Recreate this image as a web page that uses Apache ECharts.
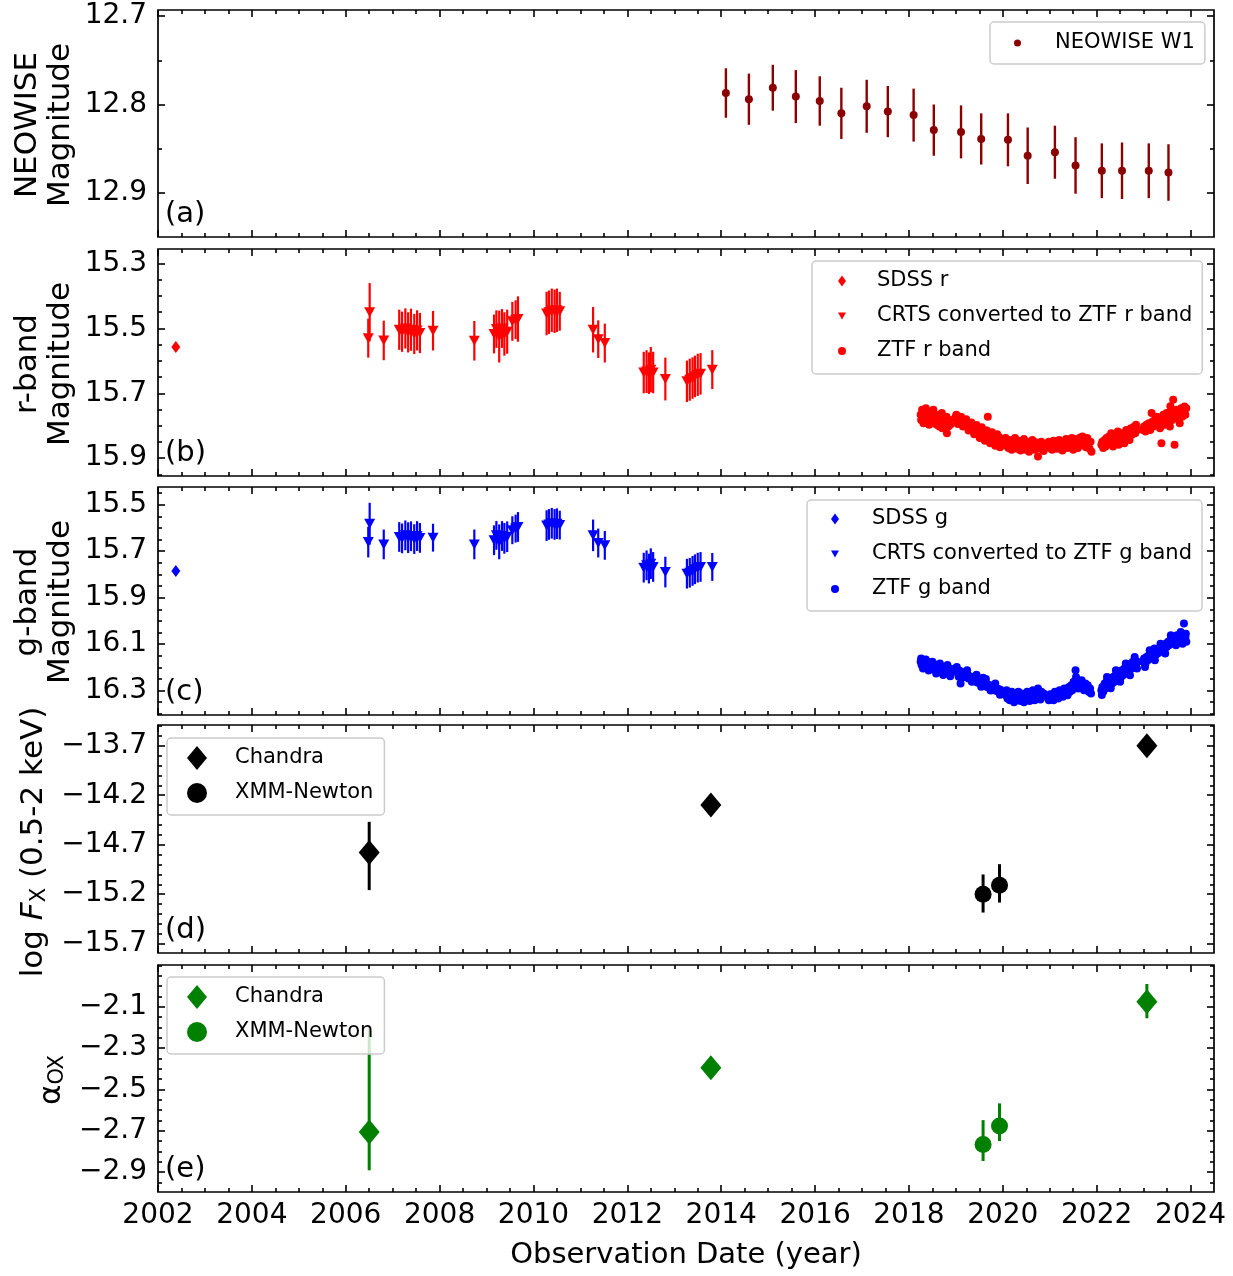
<!DOCTYPE html>
<html><head><meta charset="utf-8">
<script src="https://cdn.jsdelivr.net/npm/echarts@6/dist/echarts.min.js"></script>
<style>html,body{margin:0;padding:0;background:#fff}#c{width:1233px;height:1276px}</style>
</head><body><div id="c"></div>
<script>
const FONT = '"DejaVu Sans", sans-serif';

// ---------- DATA ----------
const neowiseYear = [2014.10,2014.59,2015.10,2015.59,2016.10,2016.56,2017.10,2017.55,2018.10,2018.53,2019.11,2019.54,2020.11,2020.53,2021.11,2021.55,2022.11,2022.54,2023.11,2023.53];
const neowiseMag  = [12.787,12.794,12.781,12.791,12.796,12.810,12.802,12.808,12.812,12.829,12.831,12.839,12.840,12.858,12.854,12.869,12.875,12.875,12.875,12.877];
const neowiseErr  = [0.028,0.029,0.026,0.030,0.028,0.029,0.030,0.029,0.030,0.029,0.030,0.029,0.030,0.032,0.030,0.032,0.031,0.032,0.031,0.032];

const sdssYear = [2002.38];
const sdssR = [15.557];
const sdssG = [15.785];

const crtsYear = [2006.48,2006.51,2006.81,2007.14,2007.20,2007.27,2007.33,2007.39,2007.46,2007.52,2007.58,2007.86,2008.74,2009.16,2009.21,2009.27,2009.33,2009.38,2009.44,2009.55,2009.62,2009.67,2010.28,2010.33,2010.39,2010.45,2010.50,2010.56,2011.27,2011.38,2011.52,2012.35,2012.41,2012.46,2012.50,2012.55,2012.81,2013.27,2013.33,2013.39,2013.44,2013.50,2013.56,2013.81];
const crtsR = [15.530,15.450,15.537,15.504,15.510,15.500,15.512,15.504,15.517,15.506,15.514,15.507,15.538,15.517,15.502,15.525,15.500,15.517,15.510,15.478,15.473,15.471,15.454,15.450,15.444,15.447,15.444,15.447,15.504,15.533,15.545,15.636,15.633,15.638,15.627,15.636,15.656,15.663,15.658,15.653,15.648,15.643,15.640,15.627];
const crtsRErr = [0.060,0.090,0.061,0.062,0.062,0.062,0.062,0.065,0.062,0.062,0.062,0.061,0.061,0.060,0.058,0.080,0.060,0.067,0.068,0.060,0.060,0.070,0.067,0.067,0.067,0.067,0.067,0.060,0.070,0.058,0.060,0.064,0.066,0.064,0.070,0.064,0.066,0.064,0.065,0.064,0.064,0.065,0.064,0.060];
const crtsG = [15.661,15.582,15.671,15.639,15.645,15.632,15.642,15.636,15.648,15.635,15.643,15.642,15.671,15.653,15.632,15.660,15.635,15.645,15.638,15.610,15.603,15.596,15.590,15.585,15.580,15.585,15.582,15.588,15.632,15.665,15.675,15.771,15.761,15.775,15.754,15.768,15.790,15.797,15.793,15.785,15.778,15.771,15.768,15.768];
const crtsGErr = [0.066,0.090,0.064,0.064,0.064,0.064,0.066,0.064,0.064,0.064,0.064,0.060,0.064,0.064,0.062,0.075,0.064,0.066,0.066,0.060,0.060,0.064,0.066,0.066,0.066,0.066,0.066,0.062,0.068,0.062,0.062,0.064,0.064,0.064,0.066,0.064,0.066,0.064,0.064,0.064,0.064,0.064,0.064,0.060];

const ztfR = [
[2018.25,15.766],[2018.26,15.782],[2018.28,15.751],[2018.30,15.772],[2018.31,15.792],[2018.33,15.761],[2018.34,15.777],[2018.36,15.746],[2018.37,15.787],[2018.39,15.766],[2018.40,15.756],[2018.42,15.782],[2018.43,15.797],[2018.45,15.772],[2018.46,15.761],[2018.48,15.787],[2018.50,15.777],[2018.52,15.751],[2018.54,15.766],[2018.55,15.792],[2018.57,15.782],[2018.58,15.766],[2018.59,15.797],[2018.61,15.772],[2018.63,15.787],[2018.65,15.802],[2018.67,15.777],[2018.69,15.792],[2018.70,15.761],[2018.71,15.808],[2018.72,15.782],[2018.74,15.797],[2018.76,15.808],[2018.78,15.787],[2018.80,15.772],[2018.81,15.823],[2018.82,15.792],[2018.84,15.802],[2018.86,15.782],[2018.88,15.797],
[2018.98,15.777],[2019.00,15.772],[2019.02,15.782],[2019.05,15.777],[2019.07,15.787],[2019.09,15.782],[2019.12,15.787],[2019.14,15.792],[2019.16,15.785],[2019.19,15.797],[2019.21,15.790],[2019.24,15.800],[2019.26,15.795],[2019.29,15.805],[2019.31,15.800],[2019.33,15.810],[2019.36,15.803],[2019.38,15.813],[2019.40,15.808],[2019.43,15.818],[2019.45,15.810],[2019.47,15.820],[2019.50,15.813],[2019.52,15.826],[2019.54,15.818],[2019.57,15.830],[2019.59,15.822],[2019.61,15.833],[2019.63,15.815],[2019.66,15.828],[2019.68,15.772],[2019.70,15.836],[2019.72,15.823],[2019.75,15.841],[2019.77,15.830],[2019.80,15.844],[2019.82,15.833],[2019.85,15.849],[2019.87,15.838],[2019.90,15.846],[2019.92,15.835],[2019.95,15.851],[2019.97,15.841],
[2019.01,15.766],[2019.11,15.772],[2019.22,15.780],[2019.33,15.790],[2019.44,15.798],[2019.55,15.805],[2019.66,15.815],[2019.77,15.820],[2019.88,15.826],[2019.04,15.795],[2019.15,15.802],[2019.27,15.815],[2019.39,15.826],[2019.51,15.838],[2019.62,15.846],[2019.73,15.854],[2019.84,15.862],[2019.94,15.866],
[2020.04,15.849],[2020.06,15.838],[2020.08,15.862],[2020.10,15.854],[2020.12,15.869],[2020.14,15.844],[2020.17,15.859],[2020.19,15.874],[2020.21,15.849],[2020.24,15.864],[2020.26,15.838],[2020.28,15.856],[2020.31,15.871],[2020.33,15.846],[2020.35,15.861],[2020.38,15.876],[2020.40,15.851],[2020.42,15.866],[2020.45,15.841],[2020.47,15.859],[2020.49,15.874],[2020.52,15.849],[2020.54,15.864],[2020.56,15.880],[2020.59,15.854],[2020.61,15.869],[2020.63,15.844],[2020.66,15.859],[2020.68,15.874],[2020.70,15.851],[2020.73,15.866],[2020.75,15.895],[2020.77,15.856],[2020.80,15.871],[2020.82,15.849],[2020.84,15.864],[2020.87,15.878],[2020.89,15.859],
[2020.96,15.859],[2020.98,15.849],[2021.00,15.869],[2021.03,15.856],[2021.05,15.874],[2021.08,15.846],[2021.10,15.864],[2021.12,15.851],[2021.15,15.871],[2021.17,15.859],[2021.20,15.844],[2021.22,15.866],[2021.25,15.854],[2021.27,15.876],[2021.30,15.849],[2021.32,15.861],[2021.35,15.841],[2021.37,15.869],[2021.40,15.856],[2021.42,15.846],[2021.45,15.864],[2021.47,15.838],[2021.50,15.874],[2021.52,15.851],[2021.55,15.861],[2021.57,15.841],[2021.60,15.869],[2021.62,15.849],[2021.65,15.836],[2021.67,15.859],[2021.70,15.833],[2021.72,15.854],[2021.75,15.844],[2021.77,15.866],[2021.80,15.838],[2021.82,15.856],[2021.85,15.871],[2021.87,15.849],[2021.89,15.880],
[2022.10,15.859],[2022.12,15.849],[2022.14,15.869],[2022.17,15.844],[2022.19,15.864],[2022.21,15.838],[2022.24,15.856],[2022.26,15.833],[2022.28,15.849],[2022.31,15.823],[2022.33,15.844],[2022.35,15.864],[2022.38,15.828],[2022.40,15.849],[2022.42,15.838],[2022.45,15.818],[2022.47,15.859],[2022.49,15.833],[2022.52,15.844],[2022.54,15.823],[2022.56,15.838],[2022.59,15.854],[2022.61,15.828],[2022.63,15.813],[2022.66,15.833],[2022.68,15.818],[2022.70,15.844],[2022.73,15.808],[2022.75,15.828],[2022.77,15.813],[2022.80,15.802],[2022.82,15.823],[2022.84,15.797],[2022.87,15.813],
[2022.99,15.813],[2023.01,15.802],[2023.04,15.818],[2023.06,15.797],[2023.09,15.808],[2023.11,15.792],[2023.14,15.813],[2023.17,15.761],[2023.19,15.787],[2023.21,15.802],[2023.24,15.782],[2023.26,15.797],[2023.28,15.772],[2023.31,15.792],[2023.33,15.777],[2023.35,15.808],[2023.38,15.854],[2023.40,15.787],[2023.42,15.766],[2023.45,15.797],[2023.47,15.777],[2023.49,15.761],[2023.52,15.787],[2023.54,15.772],[2023.56,15.802],[2023.57,15.740],[2023.59,15.756],[2023.61,15.782],[2023.63,15.720],[2023.66,15.859],[2023.68,15.766],[2023.70,15.751],[2023.73,15.777],[2023.75,15.761],[2023.77,15.792],[2023.80,15.746],[2023.82,15.772],[2023.84,15.756],[2023.87,15.741],[2023.89,15.766],[2023.91,15.746]
];

const ztfG = [
[2018.25,16.176],[2018.27,16.190],[2018.29,16.183],[2018.31,16.169],[2018.33,16.195],[2018.35,16.185],[2018.37,16.200],[2018.39,16.190],[2018.41,16.178],[2018.44,16.202],[2018.46,16.193],[2018.48,16.207],[2018.50,16.197],[2018.53,16.186],[2018.55,16.210],[2018.57,16.200],[2018.60,16.212],[2018.62,16.203],[2018.64,16.193],[2018.67,16.215],[2018.69,16.205],[2018.71,16.219],[2018.74,16.209],[2018.76,16.198],[2018.78,16.221],[2018.80,16.212],[2018.83,16.224],[2018.85,16.214],[2018.87,16.205],[2018.89,16.219],
[2018.26,16.162],[2018.30,16.205],[2018.36,16.166],[2018.42,16.214],[2018.50,16.176],[2018.58,16.226],[2018.66,16.183],[2018.73,16.233],[2018.82,16.190],[2018.88,16.238],
[2018.98,16.205],[2019.00,16.219],[2019.03,16.212],[2019.05,16.226],[2019.08,16.215],[2019.10,16.269],[2019.12,16.230],[2019.15,16.221],[2019.17,16.236],[2019.20,16.228],[2019.22,16.243],[2019.25,16.233],[2019.27,16.248],[2019.30,16.238],[2019.32,16.252],[2019.35,16.243],[2019.37,16.257],[2019.40,16.247],[2019.42,16.262],[2019.45,16.252],[2019.47,16.266],[2019.50,16.257],[2019.52,16.271],[2019.55,16.262],[2019.57,16.276],[2019.60,16.266],[2019.62,16.281],[2019.65,16.270],[2019.67,16.285],[2019.70,16.275],[2019.72,16.290],[2019.75,16.279],[2019.77,16.294],[2019.80,16.283],[2019.82,16.298],[2019.85,16.288],[2019.87,16.302],[2019.90,16.292],[2019.92,16.305],[2019.95,16.296],[2019.97,16.309],
[2019.02,16.198],[2019.13,16.245],[2019.24,16.212],[2019.34,16.262],[2019.44,16.232],[2019.54,16.283],[2019.64,16.250],[2019.74,16.300],[2019.84,16.270],[2019.94,16.318],[2019.06,16.240],[2019.58,16.245],
[2020.04,16.305],[2020.06,16.320],[2020.08,16.298],[2020.10,16.334],[2020.12,16.312],[2020.15,16.341],[2020.17,16.320],[2020.19,16.305],[2020.22,16.334],[2020.24,16.350],[2020.26,16.316],[2020.29,16.330],[2020.31,16.341],[2020.33,16.305],[2020.36,16.325],[2020.38,16.345],[2020.40,16.312],[2020.43,16.334],[2020.45,16.350],[2020.47,16.320],[2020.50,16.341],[2020.52,16.305],[2020.54,16.327],[2020.57,16.345],[2020.59,16.316],[2020.61,16.334],[2020.64,16.298],[2020.66,16.323],[2020.68,16.341],[2020.71,16.312],[2020.73,16.330],[2020.75,16.291],[2020.78,16.320],[2020.80,16.338],[2020.82,16.305],[2020.85,16.327],[2020.87,16.312],[2020.89,16.323],
[2020.96,16.327],[2020.98,16.341],[2021.01,16.316],[2021.03,16.334],[2021.06,16.320],[2021.08,16.341],[2021.11,16.305],[2021.13,16.327],[2021.16,16.312],[2021.18,16.334],[2021.21,16.298],[2021.23,16.320],[2021.26,16.305],[2021.28,16.327],[2021.31,16.291],[2021.33,16.312],[2021.36,16.298],[2021.38,16.320],[2021.41,16.284],[2021.43,16.305],[2021.46,16.277],[2021.48,16.298],[2021.51,16.262],[2021.53,16.284],[2021.55,16.212],[2021.56,16.241],[2021.58,16.269],[2021.61,16.291],[2021.63,16.262],[2021.66,16.284],[2021.68,16.255],[2021.71,16.277],[2021.73,16.298],[2021.76,16.269],[2021.78,16.291],[2021.81,16.277],[2021.83,16.305],[2021.86,16.291],[2021.88,16.312],
[2022.10,16.298],[2022.12,16.284],[2022.14,16.305],[2022.17,16.269],[2022.19,16.291],[2022.21,16.262],[2022.24,16.284],[2022.26,16.255],[2022.28,16.277],[2022.31,16.248],[2022.33,16.269],[2022.35,16.241],[2022.38,16.262],[2022.40,16.234],[2022.42,16.255],[2022.45,16.226],[2022.47,16.248],[2022.49,16.219],[2022.52,16.241],[2022.54,16.212],[2022.56,16.234],[2022.59,16.205],[2022.61,16.226],[2022.63,16.198],[2022.66,16.219],[2022.68,16.190],[2022.70,16.212],[2022.73,16.183],[2022.75,16.205],[2022.77,16.176],[2022.80,16.198],[2022.82,16.169],[2022.84,16.190],[2022.87,16.176],
[2022.11,16.319],[2022.22,16.241],[2022.30,16.290],[2022.41,16.212],[2022.50,16.262],[2022.62,16.183],[2022.71,16.234],[2022.81,16.155],[2022.86,16.205],
[2022.99,16.176],[2023.01,16.162],[2023.04,16.183],[2023.06,16.155],[2023.09,16.169],[2023.11,16.148],[2023.14,16.162],[2023.16,16.140],[2023.18,16.155],[2023.21,16.133],[2023.23,16.119],[2023.25,16.148],[2023.28,16.126],[2023.30,16.140],[2023.33,16.119],[2023.35,16.133],[2023.38,16.112],[2023.40,16.126],[2023.42,16.105],[2023.45,16.119],[2023.47,16.098],[2023.49,16.112],[2023.52,16.090],[2023.54,16.105],[2023.57,16.083],[2023.59,16.098],[2023.61,16.076],[2023.64,16.090],[2023.66,16.069],[2023.68,16.083],[2023.71,16.062],[2023.73,16.076],[2023.75,16.090],[2023.78,16.069],[2023.80,16.083],[2023.82,16.062],[2023.85,16.076],[2023.86,16.011],[2023.87,16.083],[2023.89,16.069],[2023.91,16.090],
[2023.03,16.198],[2023.13,16.126],[2023.24,16.169],[2023.36,16.098],[2023.46,16.140],[2023.58,16.062],[2023.69,16.105],[2023.79,16.048],[2023.90,16.055],[2023.83,16.098]
];

const chandraYear = [2006.50, 2013.78, 2023.07];
const chandraFx = [-14.779, -14.300, -13.700];
const chandraFxErrLo = [0.38, 0, 0];
const chandraFxErrHi = [0.31, 0, 0];
const xmmYear = [2019.58, 2019.93];
const xmmFx = [-15.201, -15.110];
const xmmFxErrLo = [0.185, 0.175];
const xmmFxErrHi = [0.20, 0.213];

const chandraAox = [-2.706, -2.396, -2.076];
const chandraAoxErrLo = [0.186, 0, 0.08];
const chandraAoxErrHi = [0.506, 0, 0.086];
const xmmAox = [-2.767, -2.677];
const xmmAoxErrLo = [0.08, 0.073];
const xmmAoxErrHi = [0.118, 0.109];

const xTickLabels = [2002,2004,2006,2008,2010,2012,2014,2016,2018,2020,2022,2024];
const yTicksA = [12.7, 12.8, 12.9];
const yTicksB = [15.3, 15.5, 15.7, 15.9];
const yTicksC = [15.5, 15.7, 15.9, 16.1, 16.3];
const yTicksD = [-13.7, -14.2, -14.7, -15.2, -15.7];
const yTicksE = [-2.1, -2.3, -2.5, -2.7, -2.9];

// ---------- LAYOUT ----------
const panels = [
  {top:10,  height:227, min:12.693, max:12.95,  inv:true,  major:yTicksA, step:0.05},
  {top:249, height:227, min:15.255, max:15.955, inv:true,  major:yTicksB, step:0.05},
  {top:487, height:228, min:15.424, max:16.405, inv:true,  major:yTicksC, step:0.05},
  {top:725, height:228, min:-15.795,max:-13.49, inv:false, major:yTicksD, step:0.1},
  {top:965, height:227, min:-2.997, max:-1.898, inv:false, major:yTicksE, step:0.05}
];
const LEFT = 158, WIDTH = 1056, XMIN = 2002, XMAX = 2024.5;

function minorList(min, max, step, major) {
  const out = [];
  for (let k = Math.ceil(min / step); k <= Math.floor(max / step); k++) {
    const v = Math.round(k * step * 10000) / 10000;
    if (major.some(m => Math.abs(m - v) < 1e-6)) continue;
    if (Math.abs(v - min) < 1e-6 || Math.abs(v - max) < 1e-6) continue;
    out.push(v);
  }
  return out;
}
const xMinor = minorList(XMIN, XMAX, 0.5, xTickLabels).filter(v => v < 2024.4);

const fmt = v => (v < 0 ? '\u2212' : '') + Math.abs(v).toFixed(1);
const tickStyle = {color:'#000', width:1.6};

const grid = [], xAxis = [], yAxis = [];
panels.forEach((p, i) => {
  grid.push({left:LEFT, width:WIDTH, top:p.top, height:p.height, show:true, borderColor:'#000', borderWidth:1.7, backgroundColor:'transparent'});
  const baseX = {gridIndex:i, type:'value', min:XMIN, max:XMAX, axisLine:{show:false}, splitLine:{show:false}};
  [['bottom', xTickLabels, 7, i === 4], ['bottom', xMinor, 4, false], ['top', xTickLabels, 7, false], ['top', xMinor, 4, false]].forEach(([pos, vals, len, lab]) => {
    xAxis.push(Object.assign({}, baseX, {
      position: pos,
      axisTick: {show:true, inside:true, length:len, lineStyle:tickStyle, customValues: vals},
      axisLabel: {show: lab, customValues: vals, fontSize:28, fontFamily:FONT, color:'#000', margin:10, formatter: v => String(v)}
    }));
  });
  const minors = minorList(p.min, p.max, p.step, p.major);
  const baseY = {gridIndex:i, type:'value', min:p.min, max:p.max, inverse:p.inv, axisLine:{show:false}, splitLine:{show:false}};
  [['left', p.major, 7, true], ['left', minors, 4, false], ['right', p.major, 7, false], ['right', minors, 4, false]].forEach(([pos, vals, len, lab]) => {
    yAxis.push(Object.assign({}, baseY, {
      position: pos,
      axisTick: {show:true, inside:true, length:len, lineStyle:tickStyle, customValues: vals},
      axisLabel: {show: lab, customValues: vals, fontSize:28, fontFamily:FONT, color:'#000', margin:11, formatter: fmt}
    }));
  });
});

function errRender(color, width) {
  return function (params, api) {
    const x = api.value(0);
    const p1 = api.coord([x, api.value(1)]);
    const p2 = api.coord([x, api.value(2)]);
    return {type:'line', shape:{x1:p1[0], y1:p1[1], x2:p2[0], y2:p2[1]}, style:{stroke:color, lineWidth:width}};
  };
}
function errSeries(name, gi, xs, ys, lo, hi, color, width) {
  return {name: name, type:'custom', xAxisIndex:gi*4, yAxisIndex:gi*4, renderItem: errRender(color, width),
    encode:{x:0, y:[1,2]}, silent:true, z:2,
    data: xs.map((x, k) => [x, ys[k] - lo[k], ys[k] + hi[k]])};
}
function scat(name, gi, data, color, symbol, size, rot) {
  return {name: name, type:'scatter', xAxisIndex:gi*4, yAxisIndex:gi*4, data: data,
    symbol: symbol, symbolSize: size, symbolRotate: rot || 0, z:3,
    itemStyle:{color: color, opacity:1}, emphasis:{disabled:true}};
}
const zip = (a, b) => a.map((v, k) => [v, b[k]]);

const DARKRED = '#8b0000', RED = '#ff0000', BLUE = '#0000ff', BLACK = '#000000', GREEN = '#008000';

const series = [
  errSeries('neowise-err', 0, neowiseYear, neowiseMag, neowiseErr, neowiseErr, DARKRED, 2.4),
  scat('NEOWISE W1', 0, zip(neowiseYear, neowiseMag), DARKRED, 'circle', 8),

  scat('SDSS r', 1, zip(sdssYear, sdssR), RED, 'diamond', [9, 12]),
  errSeries('crtsr-err', 1, crtsYear, crtsR, crtsRErr, crtsRErr, RED, 2.2),
  scat('CRTS converted to ZTF r band', 1, zip(crtsYear, crtsR), RED, 'triangle', [11, 10], 180),
  scat('ZTF r band', 1, ztfR, RED, 'circle', 8),

  scat('SDSS g', 2, zip(sdssYear, sdssG), BLUE, 'diamond', [9, 12]),
  errSeries('crtsg-err', 2, crtsYear, crtsG, crtsGErr, crtsGErr, BLUE, 2.2),
  scat('CRTS converted to ZTF g band', 2, zip(crtsYear, crtsG), BLUE, 'triangle', [11, 10], 180),
  scat('ZTF g band', 2, ztfG, BLUE, 'circle', 8),

  errSeries('chd-err', 3, chandraYear, chandraFx, chandraFxErrLo, chandraFxErrHi, BLACK, 3),
  scat('Chandra|d', 3, zip(chandraYear, chandraFx), BLACK, 'diamond', [21, 25]),
  errSeries('xmmd-err', 3, xmmYear, xmmFx, xmmFxErrLo, xmmFxErrHi, BLACK, 3),
  scat('XMM-Newton|d', 3, zip(xmmYear, xmmFx), BLACK, 'circle', 17),

  errSeries('che-err', 4, chandraYear, chandraAox, chandraAoxErrLo, chandraAoxErrHi, GREEN, 3),
  scat('Chandra|e', 4, zip(chandraYear, chandraAox), GREEN, 'diamond', [21, 25]),
  errSeries('xmme-err', 4, xmmYear, xmmAox, xmmAoxErrLo, xmmAoxErrHi, GREEN, 3),
  scat('XMM-Newton|e', 4, zip(xmmYear, xmmAox), GREEN, 'circle', 17)
];

const DOWN_TRI = 'path://M0,0L10,0L5,9Z';
const legendBase = {
  orient:'vertical', selectedMode:false, itemGap:11,
  backgroundColor:'rgba(255,255,255,0.8)', borderColor:'#cccccc', borderWidth:1.5, borderRadius:4,
  formatter: n => n.split('|')[0]
};
const lt = pad => ({fontSize:21, fontFamily:FONT, color:'#000', lineHeight:24, padding:[0,0,0,pad]});
const legend = [
  Object.assign({}, legendBase, {data:['NEOWISE W1'], left:990, top:22, padding:[9,10,9,24], itemWidth:7, itemHeight:7, textStyle:lt(29)}),
  Object.assign({}, legendBase, {data:['SDSS r', {name:'CRTS converted to ZTF r band', icon:DOWN_TRI}, 'ZTF r band'], left:812, top:261, padding:[8,10,11,26], itemWidth:8, itemHeight:11, textStyle:lt(26)}),
  Object.assign({}, legendBase, {data:['SDSS g', {name:'CRTS converted to ZTF g band', icon:DOWN_TRI}, 'ZTF g band'], left:807, top:500, padding:[7,10,10,24], itemWidth:8, itemHeight:11, textStyle:lt(28)}),
  Object.assign({}, legendBase, {data:['Chandra|d','XMM-Newton|d'], left:167, top:738, padding:[8,11,10,20], itemWidth:20, itemHeight:24, textStyle:lt(23)}),
  Object.assign({}, legendBase, {data:['Chandra|e','XMM-Newton|e'], left:167, top:977, padding:[8,11,10,20], itemWidth:20, itemHeight:24, textStyle:lt(23)})
];

const txt = (x, y, text, size, rot, extra) => ({
  type:'text', x:x, y:y, rotation: rot || 0, silent:true, z:10,
  style: Object.assign({text:text, fill:'#000', font: size + 'px ' + FONT, fontSize:size, fontFamily:FONT,
    align:'center', verticalAlign:'middle', textAlign:'center', textVerticalAlign:'middle'}, extra || {})
});
const letters = ['(a)','(b)','(c)','(d)','(e)'];
const graphic = [];
panels.forEach((p, i) => {
  graphic.push(txt(165, p.top + p.height - 23, letters[i], 29, 0, {align:'left', textAlign:'left'}));
});
const R90 = Math.PI / 2;
graphic.push(txt(44, 125, 'NEOWISE\nMagnitude', 31, R90, {lineHeight:33}));
graphic.push(txt(44, 364, 'r-band\nMagnitude', 31, R90, {lineHeight:33}));
graphic.push(txt(44, 602, 'g-band\nMagnitude', 31, R90, {lineHeight:33}));
graphic.push(txt(34, 842, 'log {i|F}{sub|X} (0.5-2 keV)', 31, R90, {rich:{
  i:{fontSize:31, fontFamily:FONT, fontStyle:'italic', lineHeight:36, verticalAlign:'middle'},
  sub:{fontSize:21, fontFamily:FONT, lineHeight:36, verticalAlign:'bottom', padding:[0,0,2,0]}
}}));
graphic.push(txt(52, 1080, '{a|\u03b1}{sub|OX}', 31, R90, {rich:{
  a:{fontSize:31, fontFamily:FONT, lineHeight:36, verticalAlign:'middle'},
  sub:{fontSize:21, fontFamily:FONT, lineHeight:36, verticalAlign:'bottom', padding:[0,0,2,0]}
}}));
graphic.push(txt(686, 1255, 'Observation Date (year)', 29, 0));

const chart = echarts.init(document.getElementById('c'), null, {renderer:'canvas'});
chart.setOption({
  animation:false, backgroundColor:'#ffffff',
  grid: grid, xAxis: xAxis, yAxis: yAxis, series: series, legend: legend, graphic: graphic
});
</script></body></html>
